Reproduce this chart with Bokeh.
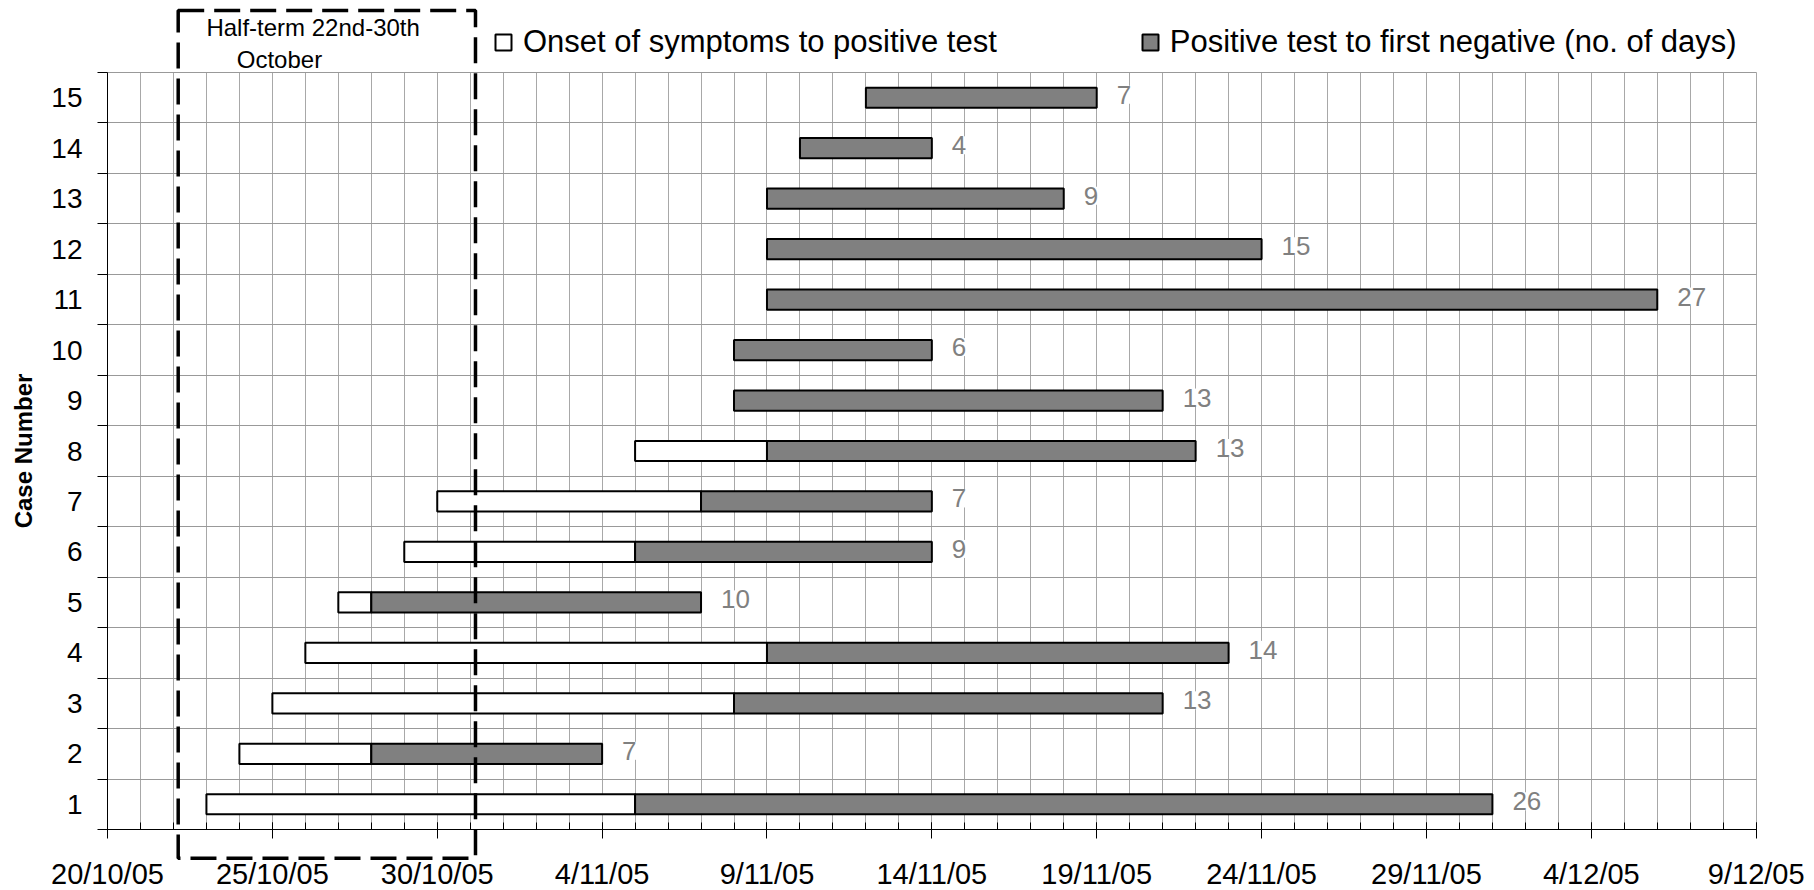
import pandas as pd
from bokeh.plotting import figure
from bokeh.core.properties import value
from bokeh.models import (Range1d, FixedTicker, Legend, LegendItem, LabelSet, Label,
                          BoxAnnotation, ColumnDataSource, DatetimeAxis, LinearAxis, Grid)
from bokeh.embed import file_html
from bokeh.resources import INLINE

# ---------------- data ----------------
cases = [1, 2, 3, 4, 5, 6, 7, 8, 9, 10, 11, 12, 13, 14, 15]
onset = ["2005-10-23", "2005-10-24", "2005-10-25", "2005-10-26", "2005-10-27",
         "2005-10-29", "2005-10-30", "2005-11-05", None, None, None, None, None, None, None]
positive = ["2005-11-05", "2005-10-28", "2005-11-08", "2005-11-09", "2005-10-28",
            "2005-11-05", "2005-11-07", "2005-11-09", "2005-11-08", "2005-11-08",
            "2005-11-09", "2005-11-09", "2005-11-09", "2005-11-10", "2005-11-12"]
negative = ["2005-12-01", "2005-11-04", "2005-11-21", "2005-11-23", "2005-11-07",
            "2005-11-14", "2005-11-14", "2005-11-22", "2005-11-21", "2005-11-14",
            "2005-12-06", "2005-11-24", "2005-11-18", "2005-11-14", "2005-11-19"]
days = [26, 7, 13, 14, 10, 9, 7, 13, 13, 6, 27, 15, 9, 4, 7]

tick_dates = ["2005-10-20", "2005-10-25", "2005-10-30", "2005-11-04", "2005-11-09",
              "2005-11-14", "2005-11-19", "2005-11-24", "2005-11-29", "2005-12-04", "2005-12-09"]
tick_labels = ["20/10/05", "25/10/05", "30/10/05", "4/11/05", "9/11/05", "14/11/05",
               "19/11/05", "24/11/05", "29/11/05", "4/12/05", "9/12/05"]
halfterm_start = "2005-10-22"
halfterm_end = "2005-10-31"
halfterm_text = ["Half-term 22nd-30th", "October"]
legend_labels = ["Onset of symptoms to positive test",
                 "Positive test to first negative (no. of days)"]

FONT = "Liberation Sans"
W, H = 1814, 890
# plot-area margins inside the canvas (pixels)
ML, MR, MT, MB = 107, 58.3, 72, 61


def ms(s):
    return float(pd.Timestamp(s).value // 10**6)


DAY = 86400000.0

# ---------------- sources ----------------
on_idx = [i for i, o in enumerate(onset) if o is not None]
src_onset = ColumnDataSource(dict(
    case=[cases[i] for i in on_idx],
    left=[ms(onset[i]) for i in on_idx],
    right=[ms(positive[i]) for i in on_idx],
))
src_pos = ColumnDataSource(dict(
    case=cases,
    left=[ms(d) for d in positive],
    right=[ms(d) for d in negative],
    label=[str(d) for d in days],
))

x0, x1 = ms(tick_dates[0]), ms(tick_dates[-1])
y0, y1 = cases[0] - 0.5, cases[-1] + 0.5
ppx = (W - ML - MR) / (x1 - x0)
ppy = (H - MT - MB) / (y1 - y0)
x_range = Range1d(x0 - ML / ppx, x1 + MR / ppx)
y_range = Range1d(y0 - MB / ppy, y1 + MT / ppy)

p = figure(width=W, height=H, x_range=x_range, y_range=y_range,
           x_axis_type=None, y_axis_type=None, min_border=0,
           output_backend="svg", toolbar_location=None,
           background_fill_color="white", border_fill_color="white")
p.outline_line_color = None

# ---------------- axes / grids ----------------
major = [ms(d) for d in tick_dates]
all_days = [x0 + k * DAY for k in range(int(round((x1 - x0) / DAY)) + 1)]
bounds = [c - 0.5 for c in cases] + [cases[-1] + 0.5]

xaxis = DatetimeAxis(fixed_location=y0, bounds=(x0, x1),
                     ticker=FixedTicker(ticks=major, minor_ticks=all_days))
xaxis.major_label_overrides = {m: t for m, t in zip(major, tick_labels)}
xaxis.major_tick_out = 9
xaxis.major_tick_in = 7
xaxis.minor_tick_out = 0
xaxis.minor_tick_in = 7
xaxis.major_label_standoff = 19
xaxis.major_label_text_font = FONT
xaxis.major_label_text_font_size = "29px"
xaxis.major_label_text_color = "black"
p.add_layout(xaxis, "below")

yaxis = LinearAxis(fixed_location=x0, bounds=(y0, y1),
                   ticker=FixedTicker(ticks=cases, minor_ticks=bounds))
yaxis.major_tick_out = 0
yaxis.major_tick_in = 0
yaxis.minor_tick_out = 10
yaxis.minor_tick_in = 0
yaxis.major_label_standoff = 15
yaxis.major_label_text_font = FONT
yaxis.major_label_text_font_size = "28px"
yaxis.major_label_text_color = "black"
yaxis.axis_label = "Case Number"
yaxis.axis_label_text_font = FONT
yaxis.axis_label_text_font_style = "bold"
yaxis.axis_label_text_font_size = "24px"
yaxis.axis_label_text_color = "black"
yaxis.axis_label_standoff = 11
p.add_layout(yaxis, "left")

for ax in (xaxis, yaxis):
    ax.axis_line_color = "black"
    ax.major_tick_line_color = "black"
    ax.minor_tick_line_color = "black"

xgrid = Grid(dimension=0, ticker=FixedTicker(ticks=all_days), cross_bounds=(y0, y1),
             grid_line_color="#a8a8a8")
ygrid = Grid(dimension=1, ticker=FixedTicker(ticks=bounds), cross_bounds=(x0, x1),
             grid_line_color="#999999")
p.add_layout(xgrid)
p.add_layout(ygrid)

# ---------------- bars ----------------
r_on = p.hbar(y="case", left="left", right="right", height=0.4, source=src_onset,
              fill_color="white", line_color="black", line_width=2)
r_pos = p.hbar(y="case", left="left", right="right", height=0.4, source=src_pos,
               fill_color="#808080", line_color="black", line_width=2)

labels = LabelSet(x="right", y="case", text="label", source=src_pos,
                  x_offset=20, y_offset=3, text_baseline="middle", text_align="left",
                  text_color="#808080", text_font=value(FONT), text_font_size="26px",
                  background_fill_color="white")
p.add_layout(labels)

# ---------------- half-term box ----------------
box = BoxAnnotation(left=ms(halfterm_start) + 0.144 * DAY, right=ms(halfterm_end) + 0.16 * DAY,
                    bottom=y0 - 28.7 / ppy, top=y1 + 62 / ppy,
                    fill_alpha=0, line_color="black", line_alpha=1.0,
                    line_width=3.5, line_dash="26 10", level="overlay")
p.add_layout(box)
p.add_layout(Label(x=ms(halfterm_start) + 1.0 * DAY, y=y1 + 45 / ppy, text=halfterm_text[0],
                   text_baseline="alphabetic", text_font=FONT, text_font_size="24px",
                   text_color="black"))
p.add_layout(Label(x=ms(halfterm_start) + 1.92 * DAY, y=y1 + 13.3 / ppy, text=halfterm_text[1],
                   text_baseline="alphabetic", text_font=FONT, text_font_size="24px",
                   text_color="black"))

# ---------------- legend ----------------
legend = Legend(items=[LegendItem(label=legend_labels[0], renderers=[r_on]),
                       LegendItem(label=legend_labels[1], renderers=[r_pos])],
                orientation="horizontal", location=(493, 830),
                glyph_width=20, glyph_height=20, label_standoff=10, spacing=143,
                padding=0, margin=0, border_line_color=None, background_fill_alpha=0,
                label_text_font=FONT, label_text_font_size="31px", label_text_color="black")
p.add_layout(legend)

open("out.html", "w").write(file_html(p, INLINE))
